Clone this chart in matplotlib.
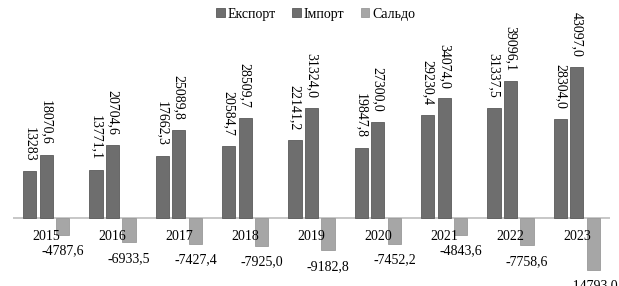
import numpy as np
import matplotlib
matplotlib.use("Agg")
import matplotlib.pyplot as plt

plt.rcParams['font.family'] = ['Liberation Serif', 'DejaVu Serif']

years = ['2015', '2016', '2017', '2018', '2019', '2020', '2021', '2022', '2023']
export = [13283, 13771.1, 17662.3, 20584.7, 22141.2, 19847.8, 29230.4, 31337.5, 28304.0]
imports = [18070.6, 20704.6, 25089.8, 28509.7, 31324.0, 27300.0, 34074.0, 39096.1, 43097.0]
saldo = [-4787.6, -6933.5, -7427.4, -7925.0, -9182.8, -7452.2, -4843.6, -7758.6, -14793.0]
export_labels = ['13283', '13771,1', '17662,3', '20584,7', '22141,2', '19847,8', '29230,4', '31337,5', '28304,0']
import_labels = ['18070,6', '20704,6', '25089,8', '28509,7', '31324,0', '27300,0', '34074,0', '39096,1', '43097,0']
saldo_labels = ['-4787,6', '-6933,5', '-7427,4', '-7925,0', '-9182,8', '-7452,2', '-4843,6', '-7758,6', '-14793,0']

fig = plt.figure(figsize=(6.19, 2.86), dpi=100)
ax = fig.add_axes([13 / 619, 0, 597 / 619, 1])

x = np.arange(len(years))
w = 0.2
dark = '#6e6e6e'
light = '#a6a6a6'

b1 = ax.bar(x - 0.25, export, w, color=dark, edgecolor='#5a5a5a', linewidth=0.6, label='Експорт')
b2 = ax.bar(x, imports, w, color=dark, edgecolor='#5a5a5a', linewidth=0.6, label='Імпорт')
b3 = ax.bar(x + 0.25, saldo, w, color=light, edgecolor='#999999', linewidth=0.6, label='Сальдо')

ax.axhline(0, color='#bdbdbd', linewidth=1.2, zorder=0)

for i in range(len(years)):
    ax.annotate(export_labels[i], (x[i] - 0.25, export[i]), xytext=(0, 10),
                textcoords='offset pixels', rotation=-90, ha='center', va='bottom', fontsize=10)
    ax.annotate(import_labels[i], (x[i], imports[i]), xytext=(0, 10),
                textcoords='offset pixels', rotation=-90, ha='center', va='bottom', fontsize=10)
    ax.annotate(saldo_labels[i], (x[i] + 0.25, saldo[i]), xytext=(0, -16),
                textcoords='offset pixels', ha='center', va='center', fontsize=10)
    ax.annotate(years[i], (x[i], 0), xytext=(0, -18),
                textcoords='offset pixels', ha='center', va='center', fontsize=10)

ax.set_xlim(-0.5, len(years) - 0.5)
ax.set_ylim(-19370, 62100)
ax.axis('off')

fig.legend(handles=[b1, b2, b3], loc='center', bbox_to_anchor=(0.51, 0.95), ncol=3,
           frameon=False, fontsize=10, handlelength=0.6, handleheight=0.6,
           handletextpad=0.2, columnspacing=1.2)

fig.savefig('out.png', dpi=100)
